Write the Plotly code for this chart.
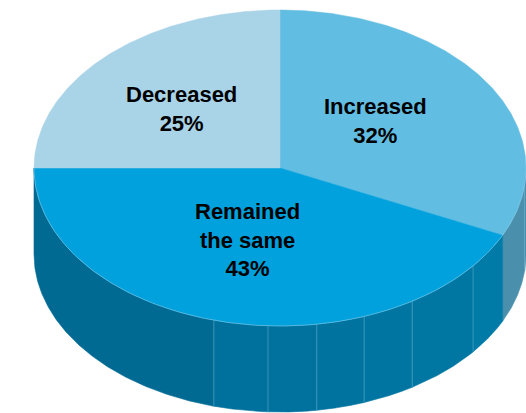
import numpy as np
import plotly.graph_objects as go

# ---- data ----
categories = ["Increased", "Remained<br>the same", "Decreased"]
values = [32, 43, 25]
top_colors = ["#62BDE2", "#00A1DC", "#A9D3E7"]
side_colors = ["#4A8FAB", "#006A93", "#A9D3E7"]

# ---- style / geometry ----
W, H = 526, 413
CX, CY, RX, RY, DEPTH = 280, 168, 246, 158, 86
LABEL_R = [0.49, 0.475, 0.55]
LABEL_DA = [-5, 3.3, -2]
FACETS = [96, 128.3, 147.5, 160, 171.4, 182.8, 195.6]  # facet edge angles of the 3D side


def pt(theta_deg, dz=0.0):
    t = np.radians(theta_deg)
    return CX + RX * np.sin(t), CY - RY * np.cos(t) + dz


def arc(a0, a1, dz=0.0, n=200):
    th = np.linspace(a0, a1, n)
    t = np.radians(th)
    return CX + RX * np.sin(t), CY - RY * np.cos(t) + dz


def mix(c1, c2, f):
    a = [int(c1[i:i + 2], 16) for i in (1, 3, 5)]
    b = [int(c2[i:i + 2], 16) for i in (1, 3, 5)]
    return "#%02x%02x%02x" % tuple(int(round(a[k] + (b[k] - a[k]) * f)) for k in range(3))


fig = go.Figure()

total = sum(values)
starts, ends = [], []
acc = 0.0
for v in values:
    starts.append(acc / total * 360)
    acc += v
    ends.append(acc / total * 360)

# ---- side faces (visible front half: 90..270 deg) ----
for i in range(len(values)):
    a0, a1 = max(starts[i], 90), min(ends[i], 270)
    if a1 <= a0:
        continue
    cuts = [a0] + [f for f in FACETS if a0 < f < a1] + [a1]
    for k in range(len(cuts) - 1):
        s0, s1 = cuts[k], cuts[k + 1]
        if i == 1:
            f = (270 - s1) / (270 - a0)
            col = mix("#006A93", "#007BA8", min(1, f ** 1.3 * 1.05)) if s1 < 196 else "#006A93"
        else:
            col = side_colors[i]
        xt, yt = arc(s0, s1)
        xb, yb = arc(s1, s0, DEPTH)
        fig.add_trace(go.Scatter(
            x=np.concatenate([xt, xb, xt[:1]]), y=np.concatenate([yt, yb, yt[:1]]),
            mode="lines", fill="toself", fillcolor=col,
            line=dict(width=0.6, color=col), hoverinfo="skip", showlegend=False))

# facet edge lines
for f in FACETS:
    x0, y0 = pt(f)
    x1, y1 = pt(f, DEPTH)
    fig.add_trace(go.Scatter(x=[x0, x1], y=[y0, y1], mode="lines",
                             line=dict(width=1, color="rgba(120,190,220,0.45)"),
                             hoverinfo="skip", showlegend=False))

# ---- top faces ----
for i in range(len(values)):
    xa, ya = arc(starts[i], ends[i])
    xs = np.concatenate([[CX], xa, [CX]])
    ys = np.concatenate([[CY], ya, [CY]])
    fig.add_trace(go.Scatter(x=xs, y=ys, mode="lines", fill="toself",
                             fillcolor=top_colors[i], line=dict(width=0.5, color=top_colors[i]),
                             hoverinfo="skip", showlegend=False))

# faint rim highlight along the front edge of the top face
xr, yr = arc(90, 270)
fig.add_trace(go.Scatter(x=xr, y=yr, mode="lines",
                         line=dict(width=1, color="rgba(130,200,230,0.6)"),
                         hoverinfo="skip", showlegend=False))

# ---- labels ----
for i, c in enumerate(categories):
    mid = (starts[i] + ends[i]) / 2 + LABEL_DA[i]
    t = np.radians(mid)
    lx = CX + RX * LABEL_R[i] * np.sin(t)
    ly = CY - RY * LABEL_R[i] * np.cos(t)
    fig.add_annotation(x=lx, y=ly, text=f"<b>{c}<br>{values[i]}%</b>", showarrow=False,
                       font=dict(family="Liberation Sans, Arial, sans-serif", size=22, color="#000000"),
                       align="center", xanchor="center", yanchor="middle")

fig.update_layout(
    width=W, height=H, margin=dict(l=0, r=0, t=0, b=0),
    paper_bgcolor="white", plot_bgcolor="white",
    xaxis=dict(range=[0, W], visible=False, fixedrange=True),
    yaxis=dict(range=[H, 0], visible=False, fixedrange=True),
)

fig.write_html("out.html")
